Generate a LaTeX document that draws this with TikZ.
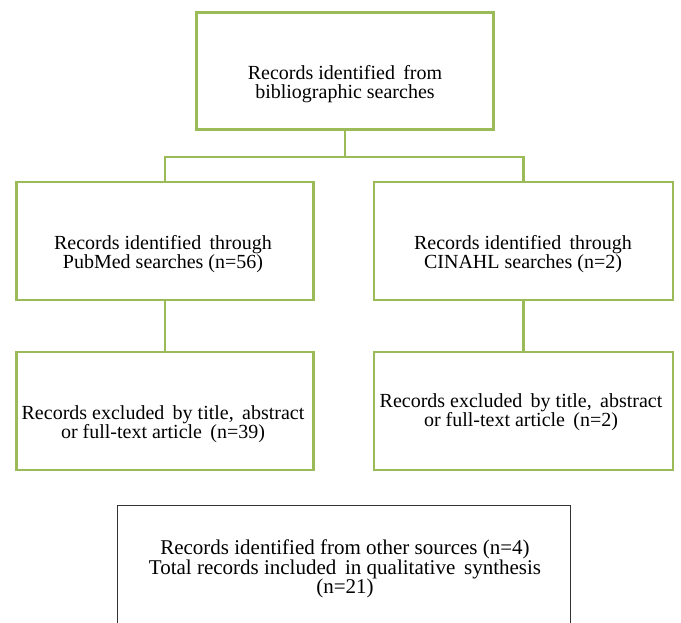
\documentclass[tikz,border=0pt]{standalone}
\usepackage{fontspec}
\setmainfont{Liberation Serif}
\definecolor{boxgreen}{HTML}{9BBB59}

\begin{document}
\begin{tikzpicture}[x=1pt, y=-1pt,
        greenbox/.style={draw=boxgreen, line width=2.5pt, minimum width=297pt, minimum height=117pt},
        blackbox/.style={draw=black!80, line width=1.5pt, minimum width=453pt, minimum height=145pt},
        boxtext/.style={align=center, inner sep=0pt, font=\fontsize{20}{19}\selectfont},
        link/.style={draw=boxgreen, line width=2.5pt}]
    \useasboundingbox (0,0) rectangle (681,623);
    \clip (0,0) rectangle (681,623);

    \node[greenbox] (biblio) at (345,71) {};
    \node[greenbox, minimum height=118pt] (pubmed) at (165,241) {};
    \node[greenbox, minimum width=299pt, minimum height=118pt] (cinahl) at (523.5,241) {};
    \node[greenbox, minimum height=118pt] (pubmedex) at (165,411) {};
    \node[greenbox, minimum width=299pt, minimum height=118pt] (cinahlex) at (523.5,411) {};
    \node[blackbox] (total) at (344,578) {};

    \node[boxtext] (biblio-t) at (345,84) {Records identified\, from\\bibliographic searches};
    \node[boxtext] (pubmed-t) at (163,254) {Records identified\, through\\PubMed searches (n=56)};
    \node[boxtext] (cinahl-t) at (523,254) {Records identified\, through\\CINAHL searches (n=2)};
    \node[boxtext] (pubmedex-t) at (163,424) {Records excluded\, by title,\, abstract\\or full-text article\, (n=39)};
    \node[boxtext] (cinahlex-t) at (521,412) {Records excluded\, by title,\, abstract\\or full-text article\, (n=2)};
    \node[boxtext, font=\fontsize{21}{19.5}\selectfont] (total-t) at (345,569) {Records identified from other sources (n=4)\\Total records included\, in qualitative\, synthesis\\(n=21)};

    \coordinate (split) at (345,157);
    \draw[link] (biblio) -- (split);
    \draw[link] (split) -| (pubmed);
    \draw[link] (split) -| (cinahl);
    \draw[link] (pubmed) -- (pubmedex);
    \draw[link] (cinahl) -- (cinahlex);
\end{tikzpicture}
\end{document}
